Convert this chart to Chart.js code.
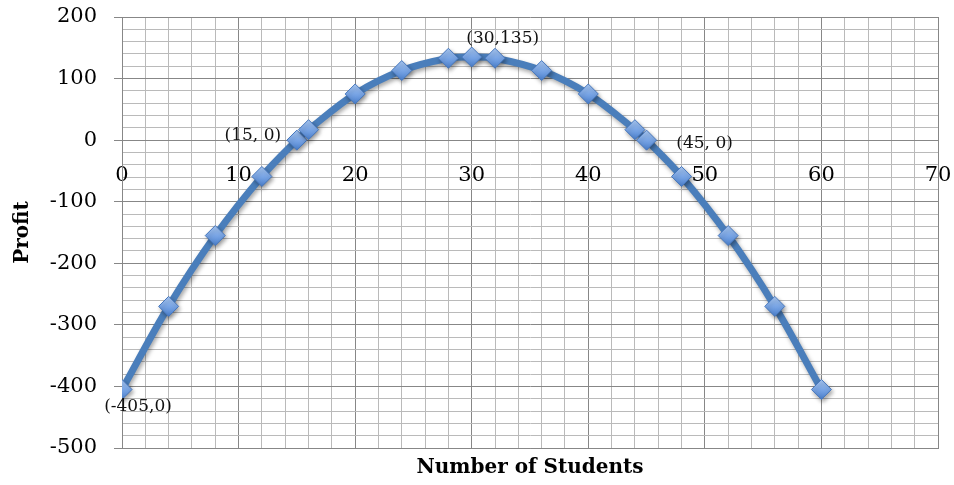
<!DOCTYPE html>
<html><head><meta charset="utf-8">
<script src="https://cdn.jsdelivr.net/npm/chart.js@4/dist/chart.umd.min.js"></script>
<style>html,body{margin:0;padding:0;background:#fff}#wrap{width:954px;height:485px}</style>
</head><body><div id="wrap"><canvas id="c" width="954" height="485"></canvas></div>
<script>
// ---- data ----
const students = [0, 4, 8, 12, 15, 16, 20, 24, 28, 30, 32, 36, 40, 44, 45, 48, 52, 56, 60];
const profit = [-405, -270, -155, -59, 0, 17, 75, 113, 133, 135, 133, 113, 75, 17, 0, -59, -155, -270, -405];
const xMin = 0, xMax = 70, xMajorStep = 10, xMinorStep = 2;
const yMin = -500, yMax = 200, yMajorStep = 100, yMinorStep = 20;
const noteTexts = ['(15, 0)', '(30,135)', '(45, 0)', '(-405,0)'];
const noteX = [15, 30, 45, 0];
const noteY = [0, 135, 0, -405];
const xTitle = 'Number of Students';
const yTitle = 'Profit';

// ---- styles ----
const SERIF = '"DejaVu Serif", "Liberation Serif", serif';
const MAJOR = '#878787', MINOR = '#bababa';
const noteOffsets = [[-44, -5], [31, -18], [58, 3], [16, 17]];

const points = students.map((x, i) => ({x: x, y: profit[i]}));

const shadowPlugin = {
  id: 'shadow',
  beforeDatasetsDraw(chart) {
    const ctx = chart.ctx; ctx.save();
    ctx.shadowColor = 'rgba(0,0,0,0.35)'; ctx.shadowBlur = 4; ctx.shadowOffsetX = 1.5; ctx.shadowOffsetY = 2.5;
  },
  afterDatasetsDraw(chart) {
    const ctx = chart.ctx; ctx.restore();
    const xs = chart.scales.x, ys = chart.scales.y;
    ctx.save();
    ctx.font = '17px ' + SERIF; ctx.fillStyle = '#111'; ctx.textAlign = 'center'; ctx.textBaseline = 'middle';
    noteTexts.forEach((t, i) => {
      ctx.fillText(t, xs.getPixelForValue(noteX[i]) + noteOffsets[i][0], ys.getPixelForValue(noteY[i]) + noteOffsets[i][1]);
    });
    ctx.restore();
  }
};

const markerFill = (c) => {
  const ch = c.chart;
  if (!ch.chartArea || !c.parsed) return '#7ea6dc';
  const y = ch.scales.y.getPixelForValue(c.parsed.y);
  const g = ch.ctx.createLinearGradient(0, y - 10, 0, y + 10);
  g.addColorStop(0, '#a9c8f3'); g.addColorStop(0.5, '#7aa6e6'); g.addColorStop(1, '#4a7fcc');
  return g;
};

new Chart(document.getElementById('c'), {
  type: 'scatter',
  data: { datasets: [{
    data: points,
    showLine: true,
    borderColor: '#4a7ebb',
    borderWidth: 7,
    tension: 0.35,
    pointStyle: 'rectRot',
    pointRadius: 10,
    pointHoverRadius: 10,
    pointBackgroundColor: markerFill,
    pointBorderColor: '#4677bd',
    pointBorderWidth: 1
  }]},
  options: {
    responsive: false,
    animation: false,
    events: [],
    layout: { padding: { top: 17, right: 16, left: 0, bottom: 0 } },
    plugins: { legend: { display: false }, tooltip: { enabled: false } },
    scales: {
      x: {
        type: 'linear', position: 'bottom', min: xMin, max: xMax,
        afterFit: (s) => { s.height = 37; s.paddingLeft = 0; s.paddingRight = 0; },
        ticks: { display: false, stepSize: xMinorStep, autoSkip: false },
        grid: { color: (c) => (c.tick && c.tick.value % xMajorStep === 0) ? MAJOR : MINOR, lineWidth: 1, drawTicks: false },
        border: { display: true, color: MAJOR, width: 1 },
        title: { display: true, text: xTitle, font: { family: SERIF, size: 20, weight: 'bold' }, color: '#000', padding: { top: 0, bottom: 5 } }
      },
      x2: {
        type: 'linear', axis: 'x', position: { y: 0 }, min: xMin, max: xMax,
        afterFit: (s) => { s.height = 0; s.paddingLeft = 0; s.paddingRight = 0; },
        ticks: { stepSize: xMajorStep, autoSkip: false, padding: 23, color: '#000', font: { family: SERIF, size: 21 }, maxRotation: 0 },
        grid: { display: false, drawTicks: false },
        border: { display: false }
      },
      y: {
        type: 'linear', position: 'left', min: yMin, max: yMax,
        afterFit: (s) => { s.width = 122; s.paddingTop = 0; s.paddingBottom = 0; },
        ticks: { stepSize: yMinorStep, autoSkip: false, padding: 17, color: '#000', font: { family: SERIF, size: 21 },
          callback: (v) => (v % yMajorStep === 0) ? String(v) : '' },
        grid: { color: (c) => (c.tick && c.tick.value % yMajorStep === 0) ? MAJOR : MINOR, lineWidth: 1, tickLength: 8,
          tickColor: (c) => (c.tick && c.tick.value % yMajorStep === 0) ? MAJOR : 'rgba(0,0,0,0)' },
        border: { display: true, color: MAJOR, width: 1 },
        title: { display: true, text: yTitle, font: { family: SERIF, size: 20, weight: 'bold' }, color: '#000', padding: { top: 11, bottom: 0 } }
      }
    }
  },
  plugins: [shadowPlugin]
});
</script>
</body></html>
